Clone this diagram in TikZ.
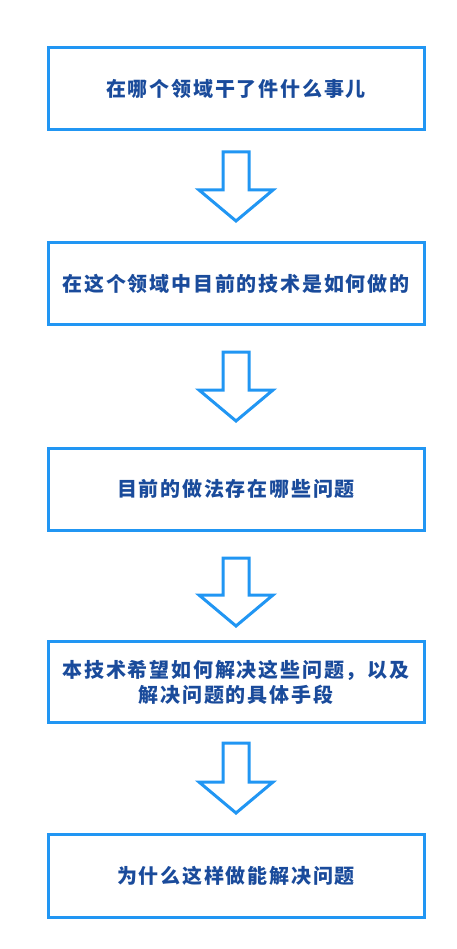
\documentclass[tikz,border=0pt]{standalone}
\usepackage{fontspec}
\newfontfamily\cjk[LetterSpace=9]{Noto Sans CJK SC}
\definecolor{boxblue}{HTML}{2196F3}
\definecolor{txtblue}{HTML}{1A4B9B}
\begin{document}
\begin{tikzpicture}[x=1pt,y=-1pt,
  stepbox/.style={draw=boxblue,line width=3pt,minimum width=376pt,inner sep=0pt,
    font=\cjk\bfseries\fontsize{20}{25}\selectfont,text=txtblue,align=center},
  blockarrow/.style={draw=boxblue,line width=3pt,line join=miter,fill=white}]
\useasboundingbox (0,0) rectangle (456,949);
\node[stepbox,minimum height=82pt] (b1) at (236,89) {在哪个领域干了件什么事儿};
\node[stepbox,minimum height=81pt] (b2) at (236,283.5) {在这个领域中目前的技术是如何做的};
\node[stepbox,minimum height=82pt] (b3) at (236,489) {目前的做法存在哪些问题};
\node[stepbox,minimum height=81pt] (b4) at (236,682) {本技术希望如何解决这些问题，以及\\解决问题的具体手段};
\node[stepbox,minimum height=83pt] (b5) at (236,875.5) {为什么这样做能解决问题};
\foreach \t/\s/\e in {152/190/221, 352/390/421, 558/595/626, 743/782/813}{
  \draw[blockarrow] (223,\t) -- (249,\t) -- (249,\s) -- (273,\s) -- (236,\e) -- (199,\s) -- (223,\s) -- cycle;
}
\end{tikzpicture}
\end{document}
